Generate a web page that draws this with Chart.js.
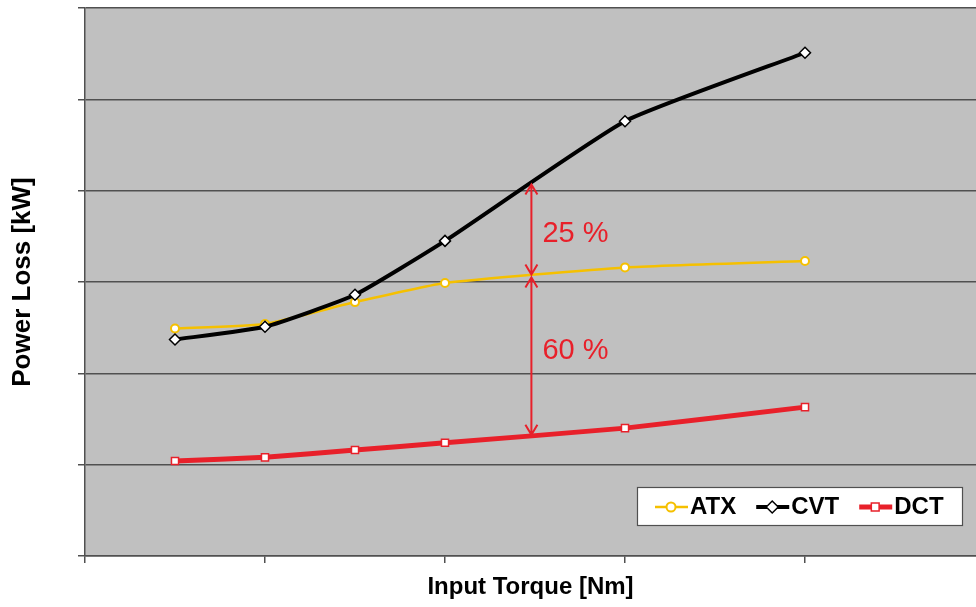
<!DOCTYPE html>
<html>
<head>
<meta charset="utf-8">
<script src="https://cdn.jsdelivr.net/npm/chart.js@4.4.1/dist/chart.umd.min.js"></script>
<style>
  html, body { margin: 0; padding: 0; background: #fff; }
  canvas { display: block; }
</style>
</head>
<body>
<canvas id="chart" width="976" height="607"></canvas>
<script>
// values (y in grid units, x in tick units)
const torque = [0.5, 1, 1.5, 2, 3, 4];
const atx = [2.49, 2.54, 2.78, 2.99, 3.16, 3.23];
const cvt = [2.37, 2.51, 2.86, 3.45, 4.76, 5.51];
const dct = [1.04, 1.08, 1.16, 1.24, 1.40, 1.63];
const xTicks = [0, 1, 2, 3, 4];
const yTicks = [0, 1, 2, 3, 4, 5, 6];
const seriesNames = ["ATX", "CVT", "DCT"];
const gapLabels = ["25 %", "60 %"];
const gapAt = 2.48;

const colors = { ATX: "#f5c000", CVT: "#000000", DCT: "#e8202a" };
const gridColor = "#505050";

const toPoints = (ys) => ys.map((y, i) => ({ x: torque[i], y: y }));

// linear interpolation along a series, used to place the % arrows on the lines
const interp = (ys, xv) => {
  for (let i = 0; i < torque.length - 1; i++) {
    if (xv >= torque[i] && xv <= torque[i + 1]) {
      const t = (xv - torque[i]) / (torque[i + 1] - torque[i]);
      return ys[i] + t * (ys[i + 1] - ys[i]);
    }
  }
  return ys[ys.length - 1];
};

const plotBackground = {
  id: "plotBackground",
  beforeDraw(chart) {
    const { ctx, chartArea: a } = chart;
    ctx.save();
    ctx.fillStyle = "#c0c0c0";
    ctx.fillRect(a.left, a.top, a.right - a.left, a.bottom - a.top);
    ctx.restore();
  },
};

const gapArrows = {
  id: "gapArrows",
  afterDatasetsDraw(chart) {
    const { ctx, scales } = chart;
    const x = scales.x.getPixelForValue(gapAt);
    const yC = scales.y.getPixelForValue(interp(cvt, gapAt));
    const yA = scales.y.getPixelForValue(interp(atx, gapAt));
    const yD = scales.y.getPixelForValue(interp(dct, gapAt));
    const red = "#e8202a";

    const arrow = (y1, y2) => {
      ctx.beginPath();
      ctx.moveTo(x, y1);
      ctx.lineTo(x, y2);
      // head at top
      ctx.moveTo(x - 6, y1 + 10);
      ctx.lineTo(x, y1);
      ctx.lineTo(x + 6, y1 + 10);
      // head at bottom
      ctx.moveTo(x - 6, y2 - 10);
      ctx.lineTo(x, y2);
      ctx.lineTo(x + 6, y2 - 10);
      ctx.stroke();
    };

    ctx.save();
    ctx.strokeStyle = red;
    ctx.lineWidth = 2;
    arrow(yC + 1, yA - 1);
    arrow(yA + 2, yD - 1);

    ctx.fillStyle = red;
    ctx.font = "29px 'Liberation Sans', Arial, sans-serif";
    ctx.textBaseline = "middle";
    ctx.textAlign = "left";
    ctx.fillText(gapLabels[0], x + 11, (yC + yA) / 2 + 5);
    ctx.fillText(gapLabels[1], x + 11, (yA + yD) / 2 - 5);
    ctx.restore();
  },
};

const boxLegend = {
  id: "boxLegend",
  afterDraw(chart) {
    const { ctx, chartArea: a } = chart;
    const w = 325, h = 38;
    const left = a.right - 14 - w;
    const top = a.bottom - 31 - h;
    ctx.save();
    ctx.fillStyle = "#fff";
    ctx.fillRect(left, top, w, h);
    ctx.strokeStyle = "#505050";
    ctx.lineWidth = 1.2;
    ctx.strokeRect(left + 0.5, top + 0.5, w, h);

    ctx.font = "bold 24px 'Liberation Sans', Arial, sans-serif";
    ctx.textBaseline = "middle";
    let x = left + 18;
    const cy = top + h / 2 + 1;
    chart.data.datasets.forEach((ds) => {
      ctx.strokeStyle = ds.borderColor;
      ctx.lineWidth = ds.borderWidth;
      ctx.beginPath();
      ctx.moveTo(x, cy);
      ctx.lineTo(x + 33, cy);
      ctx.stroke();
      ctx.fillStyle = "#fff";
      ctx.strokeStyle = ds.pointBorderColor;
      ctx.lineWidth = ds.pointBorderWidth;
      Chart.helpers.drawPoint(ctx, {
        pointStyle: ds.pointStyle,
        radius: ds.pointRadius + 0.5,
        borderWidth: ds.pointBorderWidth,
        rotation: 0,
      }, x + 16, cy);
      ctx.fillStyle = "#000";
      ctx.fillText(ds.label, x + 35, cy);
      x += 35 + ctx.measureText(ds.label).width + 20;
    });
    ctx.restore();
  },
};

new Chart(document.getElementById("chart"), {
  type: "line",
  data: {
    datasets: [
      {
        label: seriesNames[0],
        data: toPoints(atx),
        borderColor: colors.ATX,
        borderWidth: 2.5,
        pointStyle: "circle",
        pointRadius: 4,
        pointBackgroundColor: "#fff",
        pointBorderColor: colors.ATX,
        pointBorderWidth: 2,
        tension: 0.15,
        order: 2,
      },
      {
        label: seriesNames[1],
        data: toPoints(cvt),
        borderColor: colors.CVT,
        borderWidth: 4,
        pointStyle: "rectRot",
        pointRadius: 5.5,
        pointBackgroundColor: "#fff",
        pointBorderColor: colors.CVT,
        pointBorderWidth: 1.5,
        tension: 0.15,
        order: 1,
      },
      {
        label: seriesNames[2],
        data: toPoints(dct),
        borderColor: colors.DCT,
        borderWidth: 5,
        pointStyle: "rect",
        pointRadius: 5,
        pointBackgroundColor: "#fff",
        pointBorderColor: colors.DCT,
        pointBorderWidth: 1.5,
        tension: 0.15,
        order: 3,
      },
    ],
  },
  options: {
    responsive: false,
    animation: false,
    layout: { autoPadding: false, padding: { top: 8, right: 0, left: 0, bottom: 0 } },
    scales: {
      x: {
        type: "linear",
        min: 0,
        max: 4.95,
        afterBuildTicks: (scale) => {
          scale.ticks = xTicks.map((v) => ({ value: v }));
        },
        afterFit: (scale) => {
          scale.height = 51;
        },
        ticks: { display: false },
        grid: {
          drawOnChartArea: false,
          drawTicks: true,
          tickLength: 7,
          color: gridColor,
          lineWidth: 1.5,
        },
        border: { display: true, color: gridColor, width: 1.5 },
        title: {
          display: true,
          text: "Input Torque [Nm]",
          color: "#000",
          font: { family: "'Liberation Sans', Arial, sans-serif", size: 24, weight: "bold" },
          padding: { top: 0, bottom: 5 },
        },
      },
      y: {
        min: 0,
        max: 6,
        afterBuildTicks: (scale) => {
          scale.ticks = yTicks.map((v) => ({ value: v }));
        },
        afterFit: (scale) => {
          scale.width = 85;
        },
        ticks: { display: false },
        grid: {
          drawTicks: true,
          tickLength: 7,
          color: gridColor,
          lineWidth: 1.5,
        },
        border: { display: true, color: gridColor, width: 1.5 },
        title: {
          display: true,
          text: "Power Loss [kW]",
          color: "#000",
          font: { family: "'Liberation Sans', Arial, sans-serif", size: 26, weight: "bold" },
          padding: { top: 7, bottom: 0 },
        },
      },
    },
    plugins: {
      legend: { display: false },
      tooltip: { enabled: false },
    },
  },
  plugins: [plotBackground, gapArrows, boxLegend],
});
</script>
</body>
</html>
